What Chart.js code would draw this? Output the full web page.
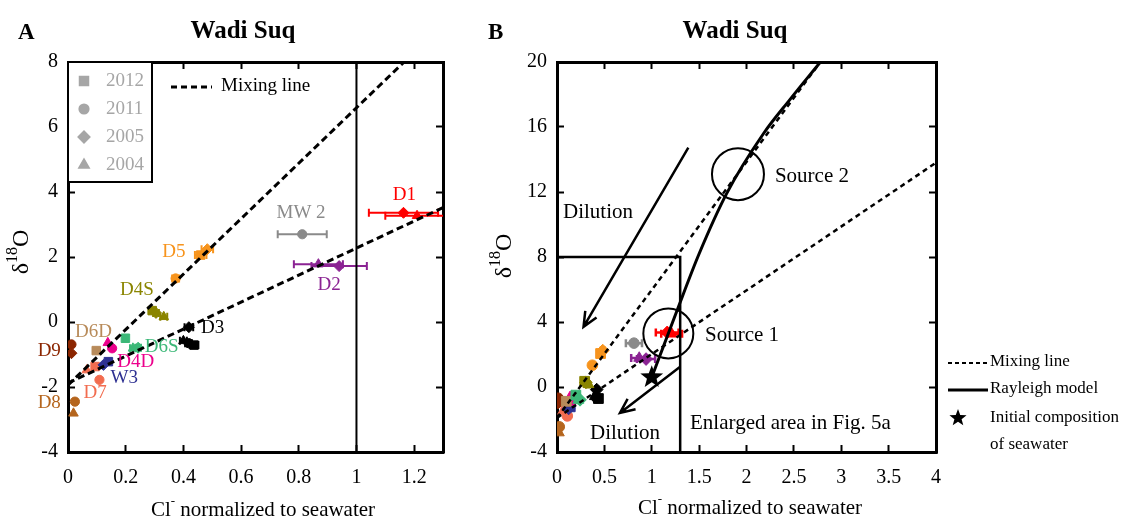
<!DOCTYPE html>
<html>
<head>
<meta charset="utf-8">
<script src="https://cdn.jsdelivr.net/npm/chart.js@4.4.0/dist/chart.umd.min.js"></script>
<style>
    html, body { margin: 0; padding: 0; background: #fff; }
    #wrap { position: relative; width: 1143px; height: 518px; overflow: hidden; }
    canvas { position: absolute; top: 0; }
    #chartA { left: 0; }
    #chartB { left: 460px; }
</style>
</head>
<body>
<div id="wrap">
    <canvas id="chartA" width="460" height="518"></canvas>
    <canvas id="chartB" width="683" height="518"></canvas>
</div>
<script>
// --- DATA ---
const sampleSite  = ['D1', 'D1', 'MW 2', 'D2', 'D2', 'D5', 'D5', 'D5', 'D4S', 'D4S', 'D4S', 'D3', 'D3', 'D3', 'D3', 'D6S', 'D6S', 'D6S', 'D6D', 'D9', 'D9', 'D4D', 'D4D', 'W3', 'W3', 'D7', 'D7', 'D7', 'D8', 'D8'];
const sampleCl    = [1.163, 1.21, 0.812, 0.94, 0.868, 0.373, 0.46, 0.483, 0.292, 0.305, 0.332, 0.419, 0.40, 0.418, 0.437, 0.199, 0.225, 0.243, 0.098, 0.012, 0.012, 0.138, 0.153, 0.14, 0.123, 0.094, 0.065, 0.109, 0.024, 0.019];
const sampleD18O  = [3.36, 3.27, 2.70, 1.72, 1.78, 1.34, 2.06, 2.24, 0.35, 0.28, 0.16, -0.16, -0.58, -0.65, -0.71, -0.50, -0.81, -0.79, -0.88, -0.69, -0.96, -0.64, -0.81, -1.22, -1.32, -1.37, -1.48, -1.78, -2.45, -2.81];
const sampleClErr = [0.12, 0.11, 0.085, 0.096, 0.085, 0.012, 0.02, 0.02, 0.012, 0.01, 0.012, 0.015, 0.012, 0.012, 0.015, 0, 0.01, 0.01, 0, 0, 0, 0, 0, 0, 0, 0, 0, 0, 0, 0];
const sampleYear  = [2005, 2004, 2011, 2005, 2004, 2011, 2012, 2005, 2012, 2005, 2004, 2005, 2004, 2011, 2012, 2012, 2004, 2005, 2012, 2011, 2005, 2004, 2011, 2012, 2005, 2012, 2004, 2011, 2011, 2004];

const years = [2012, 2011, 2005, 2004];

// labels of the sites in panel A (data coordinates of the label centre)
const siteLabelName = ['D1', 'MW 2', 'D2', 'D5', 'D4S', 'D3', 'D6D', 'D6S', 'D9', 'D4D', 'W3', 'D7', 'D8'];
const siteLabelCl   = [1.166, 0.808, 0.905, 0.367, 0.239, 0.501, 0.088, 0.325, -0.065, 0.235, 0.195, 0.094, -0.065];
const siteLabelD18O = [3.91, 3.34, 1.14, 2.16, 0.98, -0.19, -0.30, -0.78, -0.88, -1.24, -1.73, -2.19, -2.50];

// mixing lines
const mixSteepClA = [0, 1.165],   mixSteepD18OA = [-1.94, 8];
const mixFlatClA  = [0, 1.3],     mixFlatD18OA  = [-1.88, 3.52];
const mixSteepClB = [0, 2.78],    mixSteepD18OB = [-1.9, 20];
const mixFlatClB  = [0, 4],       mixFlatD18OB  = [-1.9, 13.8];

// seawater reference (Cl = 1) and Rayleigh model
const seawaterLineCl = [1, 1], seawaterLineD18O = [-4, 8];
const rayleighCl   = [1.0, 1.26, 1.5, 1.79, 2.18, 2.46, 2.78];
const rayleighD18O = [0.6, 4.6, 8.2, 11.9, 15.6, 17.7, 20];
const seawaterCl = [1.0], seawaterD18O = [0.6];

// enlarged area box of panel B
const boxCl = [0, 1.3, 1.3], boxD18O = [8, 8, -4];

// ticks
const xTicksA = [0, 0.2, 0.4, 0.6, 0.8, 1, 1.2];
const yTicksA = [-4, -2, 0, 2, 4, 6, 8];
const xTicksB = [0, 0.5, 1, 1.5, 2, 2.5, 3, 3.5, 4];
const yTicksB = [-4, 0, 4, 8, 12, 16, 20];

// --- STYLE ---
const FONT = '"Liberation Serif", "Times New Roman", serif';
const siteColors = {
    'D1': '#ff0000', 'MW 2': '#8a8a8a', 'D2': '#8b2393', 'D5': '#f7941d', 'D4S': '#8a8500',
    'D3': '#000000', 'D6S': '#3cb878', 'D6D': '#b88b5a', 'D9': '#8b2500', 'D4D': '#ec008c',
    'W3': '#2e3192', 'D7': '#f26c4f', 'D8': '#b5651d'
};
const yearStyle  = { 2012: 'rect', 2011: 'circle', 2005: 'rectRot', 2004: 'triangle' };
const yearRadius = { 2012: 6, 2011: 4.6, 2005: 5.5, 2004: 5.5 };

const fmt = v => String(Math.round(v * 10) / 10);
const pts = (xs, ys) => xs.map((x, i) => ({ x, y: ys[i] }));

function siteDatasets(scale) {
    const sites = [...new Set(sampleSite)];
    return sites.map(s => {
        const idx = sampleSite.map((v, i) => v === s ? i : -1).filter(i => i >= 0);
        return {
            label: s,
            data: idx.map(i => ({ x: sampleCl[i], y: sampleD18O[i], err: sampleClErr[i] })),
            pointStyle: idx.map(i => yearStyle[sampleYear[i]]),
            pointRadius: idx.map(i => yearRadius[sampleYear[i]] * scale),
            backgroundColor: siteColors[s],
            borderColor: siteColors[s],
            borderWidth: 1,
            showLine: false,
            errBars: true,
            order: 1
        };
    });
}

function lineSet(xs, ys, width, dash, extra) {
    return Object.assign({
        data: pts(xs, ys), showLine: true, borderColor: '#000', borderWidth: width,
        borderDash: dash, pointRadius: 0, fill: false, order: 0
    }, extra || {});
}

function axes(xMin, xMax, yMin, yMax, xt, yt, leftW, bottomH) {
    const grid = { display: true, drawOnChartArea: false, drawTicks: true, tickLength: -7, tickWidth: 2, tickColor: '#000' };
    const border = { display: true, color: '#000', width: 3 };
    const font = { family: FONT, size: 20 };
    const setTicks = list => s => { s.ticks = list.map(v => ({ value: v })); };
    return {
        x: { type: 'linear', position: 'bottom', min: xMin, max: xMax, grid, border,
             ticks: { font, color: '#000', padding: 21, maxRotation: 0, autoSkip: false, callback: fmt },
             afterBuildTicks: setTicks(xt), afterFit: s => { s.height = bottomH; } },
        y: { type: 'linear', position: 'left', min: yMin, max: yMax, grid, border,
             ticks: { font, color: '#000', padding: 17, autoSkip: false, callback: fmt },
             afterBuildTicks: setTicks(yt), afterFit: s => { s.width = leftW; } },
        x2: { type: 'linear', position: 'top', min: xMin, max: xMax, grid, border,
              ticks: { display: false }, afterBuildTicks: setTicks(xt.slice(1)), afterFit: s => { s.height = 0; } },
        y2: { type: 'linear', position: 'right', min: yMin, max: yMax, grid, border,
              ticks: { display: false }, afterBuildTicks: setTicks(yt), afterFit: s => { s.width = 0; } }
    };
}

// draws horizontal error bars with caps
const errorBars = {
    id: 'errorBars',
    beforeDatasetsDraw(chart, args, opts) {
        const { ctx, chartArea: a, scales: { x, y } } = chart;
        ctx.save();
        ctx.beginPath();
        ctx.rect(a.left, a.top, a.right - a.left, a.bottom - a.top);
        ctx.clip();
        chart.data.datasets.forEach(ds => {
            if (!ds.errBars) return;
            ds.data.forEach(p => {
                if (!p.err) return;
                const x0 = x.getPixelForValue(p.x - p.err), x1 = x.getPixelForValue(p.x + p.err);
                const py = y.getPixelForValue(p.y);
                ctx.strokeStyle = ds.borderColor;
                ctx.lineWidth = opts.width || 2;
                ctx.beginPath();
                ctx.moveTo(x0, py); ctx.lineTo(x1, py);
                ctx.moveTo(x0, py - 4); ctx.lineTo(x0, py + 4);
                ctx.moveTo(x1, py - 4); ctx.lineTo(x1, py + 4);
                ctx.stroke();
            });
        });
        ctx.restore();
    }
};

function richText(ctx, parts, x, y, align) {
    let w = 0;
    parts.forEach(p => { ctx.font = `${p[1]}px ${FONT}`; w += ctx.measureText(p[0]).width; });
    let cx = align === 'center' ? x - w / 2 : x;
    ctx.textAlign = 'left';
    ctx.textBaseline = 'middle';
    parts.forEach(p => {
        ctx.font = `${p[1]}px ${FONT}`;
        ctx.fillText(p[0], cx, y - (p[2] || 0));
        cx += ctx.measureText(p[0]).width;
    });
}

function axisTitles(ctx, xcx, xcy, ycx, ycy) {
    ctx.fillStyle = '#000';
    richText(ctx, [['Cl', 21], ['-', 13, 8], [' normalized to seawater', 21]], xcx, xcy, 'center');
    ctx.save();
    ctx.translate(ycx, ycy);
    ctx.rotate(-Math.PI / 2);
    richText(ctx, [['δ', 24], ['18', 16, 9], ['O', 24]], 0, 0, 'center');
    ctx.restore();
}

function heading(ctx, letter, lx, title, tx) {
    ctx.fillStyle = '#000';
    ctx.textBaseline = 'middle';
    ctx.font = `bold 23px ${FONT}`;
    ctx.textAlign = 'left';
    ctx.fillText(letter, lx, 33);
    ctx.font = `bold 25px ${FONT}`;
    ctx.textAlign = 'center';
    ctx.fillText(title, tx, 32);
}

function star(ctx, cx, cy, r) {
    ctx.beginPath();
    for (let i = 0; i < 10; i++) {
        const rr = i % 2 ? r * 0.42 : r;
        const ang = -Math.PI / 2 + i * Math.PI / 5;
        ctx.lineTo(cx + rr * Math.cos(ang), cy + rr * Math.sin(ang));
    }
    ctx.closePath();
    ctx.fill();
}

function arrow(ctx, x0, y0, x1, y1) {
    const ang = Math.atan2(y1 - y0, x1 - x0), h = 16, spread = 0.42;
    ctx.beginPath();
    ctx.moveTo(x0, y0); ctx.lineTo(x1, y1);
    ctx.moveTo(x1 - h * Math.cos(ang - spread), y1 - h * Math.sin(ang - spread));
    ctx.lineTo(x1, y1);
    ctx.lineTo(x1 - h * Math.cos(ang + spread), y1 - h * Math.sin(ang + spread));
    ctx.stroke();
}

// --- PANEL A ---
const decorA = {
    id: 'decorA',
    afterDraw(chart) {
        const { ctx, scales: { x, y } } = chart;
        ctx.save();
        // year legend box
        ctx.fillStyle = '#fff';
        ctx.fillRect(69, 63, 83, 119);
        ctx.strokeStyle = '#000';
        ctx.lineWidth = 2;
        ctx.strokeRect(68, 62, 84, 120);
        years.forEach((yr, i) => {
            const py = 81 + i * 28;
            ctx.fillStyle = '#a6a6a6';
            ctx.strokeStyle = '#a6a6a6';
            Chart.helpers.drawPoint(ctx, { pointStyle: yearStyle[yr], radius: yearRadius[yr], rotation: 0, borderWidth: 1 }, 84, py);
            ctx.font = `19px ${FONT}`;
            ctx.textAlign = 'left';
            ctx.textBaseline = 'middle';
            ctx.fillText(String(yr), 106, py);
        });
        // mixing line legend
        ctx.strokeStyle = '#000';
        ctx.lineWidth = 3;
        ctx.setLineDash([6, 4]);
        ctx.beginPath(); ctx.moveTo(171, 87); ctx.lineTo(212, 87); ctx.stroke();
        ctx.setLineDash([]);
        ctx.fillStyle = '#000';
        ctx.font = `19px ${FONT}`;
        ctx.fillText('Mixing line', 221, 86);
        // site labels
        ctx.font = `19px ${FONT}`;
        ctx.textAlign = 'center';
        siteLabelName.forEach((s, i) => {
            ctx.fillStyle = siteColors[s];
            ctx.fillText(s, x.getPixelForValue(siteLabelCl[i]), y.getPixelForValue(siteLabelD18O[i]));
        });
        heading(ctx, 'A', 18, 'Wadi Suq', 243);
        axisTitles(ctx, 263, 510, 22, 252);
        ctx.restore();
    }
};

new Chart(document.getElementById('chartA'), {
    type: 'scatter',
    data: {
        datasets: [
            lineSet(mixSteepClA, mixSteepD18OA, 3, [7, 4]),
            lineSet(mixFlatClA, mixFlatD18OA, 3, [7, 4]),
            lineSet(seawaterLineCl, seawaterLineD18O, 2, []),
            ...siteDatasets(1)
        ]
    },
    options: {
        responsive: false,
        animation: false,
        layout: { padding: { left: 0, top: 62, right: 17, bottom: 0 } },
        scales: axes(0, 1.3, -4, 8, xTicksA, yTicksA, 68, 66),
        plugins: { legend: { display: false }, tooltip: { enabled: false }, errorBars: { width: 2 } }
    },
    plugins: [errorBars, decorA]
});

// --- PANEL B ---
const decorB = {
    id: 'decorB',
    afterDraw(chart) {
        const { ctx, scales: { x, y } } = chart;
        const px = v => x.getPixelForValue(v), py = v => y.getPixelForValue(v);
        ctx.save();
        ctx.strokeStyle = '#000';
        ctx.fillStyle = '#000';
        ctx.lineWidth = 2.5;
        // dilution arrows
        arrow(ctx, px(1.386), py(14.73), px(0.28), py(3.7));
        arrow(ctx, px(1.30), py(1.25), px(0.665), py(-1.6));
        // source circles
        ctx.lineWidth = 2;
        ctx.beginPath(); ctx.arc(px(1.175), py(3.3), 25, 0, Math.PI * 2); ctx.stroke();
        ctx.beginPath(); ctx.arc(px(1.91), py(13.1), 26, 0, Math.PI * 2); ctx.stroke();
        // seawater star
        star(ctx, px(seawaterCl[0]), py(seawaterD18O[0]), 12);
        // text
        ctx.font = `21px ${FONT}`;
        ctx.textAlign = 'left';
        ctx.textBaseline = 'middle';
        ctx.fillText('Dilution', px(0.063), py(10.77));
        ctx.fillText('Dilution', px(0.348), py(-2.83));
        ctx.fillText('Source 1', px(1.562), py(3.2));
        ctx.fillText('Source 2', px(2.30), py(12.98));
        ctx.fillText('Enlarged area in Fig. 5a', px(1.404), py(-2.22));
        // legend
        const lx = 948 - 460;
        ctx.lineWidth = 2;
        ctx.setLineDash([4, 3]);
        ctx.beginPath(); ctx.moveTo(lx, 363); ctx.lineTo(lx + 40, 363); ctx.stroke();
        ctx.setLineDash([]);
        ctx.lineWidth = 3;
        ctx.beginPath(); ctx.moveTo(lx, 390); ctx.lineTo(lx + 40, 390); ctx.stroke();
        star(ctx, lx + 10, 418, 9);
        ctx.font = `17px ${FONT}`;
        ctx.fillText('Mixing line', lx + 42, 362);
        ctx.fillText('Rayleigh model', lx + 42, 389);
        ctx.fillText('Initial composition', lx + 42, 418);
        ctx.fillText('of seawater', lx + 42, 445);
        heading(ctx, 'B', 28, 'Wadi Suq', 275);
        axisTitles(ctx, 290, 508, 45, 256);
        ctx.restore();
    }
};

new Chart(document.getElementById('chartB'), {
    type: 'scatter',
    data: {
        datasets: [
            lineSet(mixSteepClB, mixSteepD18OB, 2.5, [5, 4]),
            lineSet(mixFlatClB, mixFlatD18OB, 2.5, [5, 4]),
            lineSet(rayleighCl, rayleighD18O, 3, [], { cubicInterpolationMode: 'monotone' }),
            lineSet(boxCl, boxD18O, 2.5, []),
            ...siteDatasets(1.15)
        ]
    },
    options: {
        responsive: false,
        animation: false,
        layout: { padding: { left: 0, top: 62, right: 207, bottom: 0 } },
        scales: axes(0, 4, -4, 20, xTicksB, yTicksB, 97, 66),
        plugins: { legend: { display: false }, tooltip: { enabled: false }, errorBars: { width: 2.5 } }
    },
    plugins: [errorBars, decorB]
});
</script>
</body>
</html>
